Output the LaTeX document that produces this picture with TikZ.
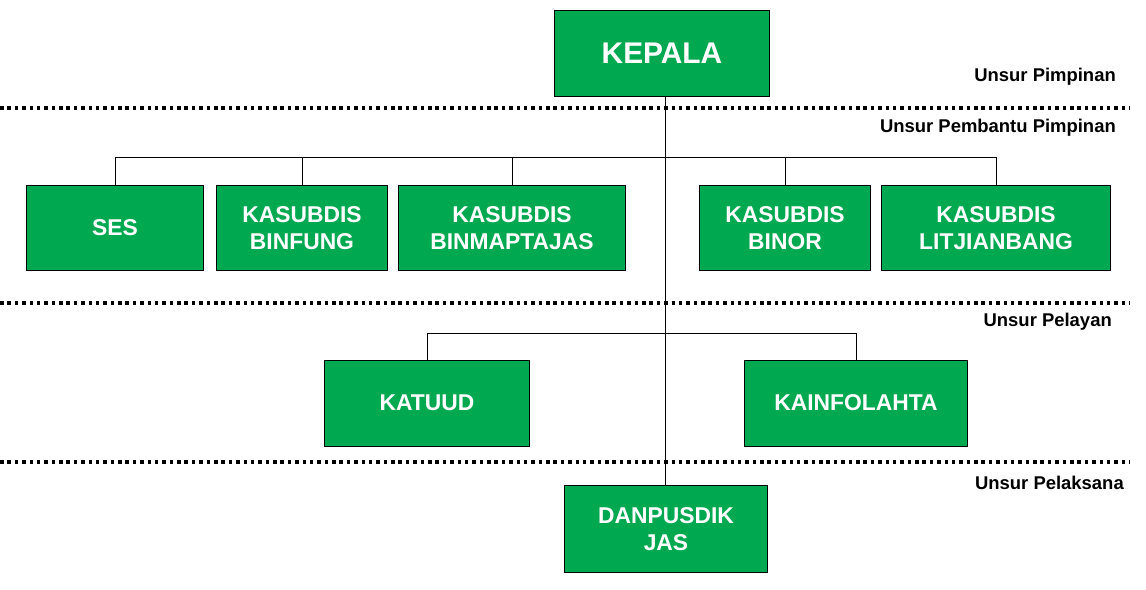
\documentclass[tikz,border=0pt]{standalone}
\usepackage{fontspec}
\setmainfont{Liberation Sans}
\usetikzlibrary{positioning, calc}
\definecolor{unitgreen}{RGB}{0,168,80}
\begin{document}
\begin{tikzpicture}[x=0.02cm, y=-0.02cm,
    unit/.style={draw, fill=unitgreen, text=white, font=\bfseries\fontsize{13}{15}\selectfont, align=center, inner sep=0pt},
    level/.style={anchor=east, font=\bfseries\fontsize{10.5}{12}\selectfont},
    divider/.style={line width=2pt, dash pattern=on 2pt off 2.2pt}]
    \useasboundingbox (0,0) rectangle (1146,589);

    \node (Kepala) at (662,53) [unit, minimum width=215*0.02cm, minimum height=86*0.02cm, font=\bfseries\fontsize{17}{20}\selectfont]{KEPALA};

    \node (Ses) at (115,228) [unit, minimum width=177*0.02cm, minimum height=85*0.02cm]{SES};
    \node (Binfung) at (302,228) [unit, minimum width=171*0.02cm, minimum height=85*0.02cm]{KASUBDIS\\BINFUNG};
    \node (Binmaptajas) at (512,228) [unit, minimum width=227*0.02cm, minimum height=85*0.02cm]{KASUBDIS\\BINMAPTAJAS};
    \node (Binor) at (785,228) [unit, minimum width=171*0.02cm, minimum height=85*0.02cm]{KASUBDIS\\BINOR};
    \node (Litjianbang) at (996,228) [unit, minimum width=229*0.02cm, minimum height=85*0.02cm]{KASUBDIS\\LITJIANBANG};

    \node (Katuud) at (427,403) [unit, minimum width=205*0.02cm, minimum height=86*0.02cm]{KATUUD};
    \node (Kainfolahta) at (856,403) [unit, minimum width=223*0.02cm, minimum height=86*0.02cm]{KAINFOLAHTA};

    \node (Danpusdik) at (666,529) [unit, minimum width=203*0.02cm, minimum height=87*0.02cm]{DANPUSDIK\\JAS};

    % dividers and levels
    \foreach \y in {108,303,462}
        \draw[divider] (0,\y) -- (1130,\y);
    \node (LvPimpinan) at (1122,77) [level]{Unsur Pimpinan};
    \node (LvPembantu) at (1122,128) [level]{Unsur Pembantu Pimpinan};
    \node (LvPelayan) at (1118,322) [level]{Unsur Pelayan};
    \node (LvPelaksana) at (1130,483) [level]{Unsur Pelaksana};

    % connectors
    \coordinate (BusTop) at (665,157);
    \coordinate (BusMid) at (665,333);
    \draw (Kepala.south -| BusTop) -- (Danpusdik.north -| BusTop);
    \draw (Ses.north |- BusTop) -- (Litjianbang.north |- BusTop);
    \foreach \n in {Ses,Binfung,Binmaptajas,Binor,Litjianbang}
        \draw (\n.north |- BusTop) -- (\n.north);
    \draw (Katuud.north |- BusMid) -- (Kainfolahta.north |- BusMid);
    \foreach \n in {Katuud,Kainfolahta}
        \draw (\n.north |- BusMid) -- (\n.north);
\end{tikzpicture}
\end{document}
